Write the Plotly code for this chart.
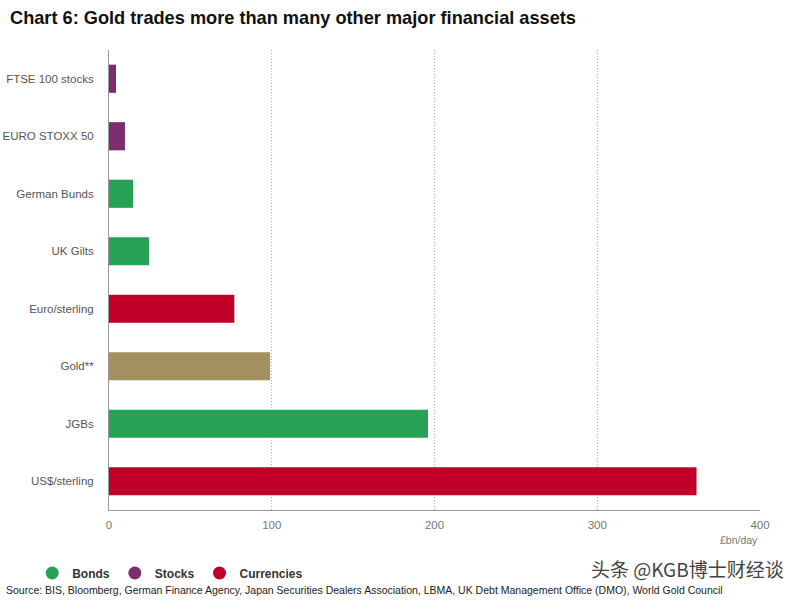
import plotly.graph_objects as go

categories = ["FTSE 100 stocks", "EURO STOXX 50", "German Bunds", "UK Gilts",
              "Euro/sterling", "Gold**", "JGBs", "US$/sterling"]
values = [4.3, 9.8, 14.8, 24.6, 77, 99, 196, 361]
groups = ["Stocks", "Stocks", "Bonds", "Bonds", "Currencies", "Gold", "Bonds", "Currencies"]
colors = {"Bonds": "#27a155", "Stocks": "#7b2d6e", "Currencies": "#c00028", "Gold": "#a38f5f"}
legend_order = ["Bonds", "Stocks", "Currencies"]
x_ticks = [0, 100, 200, 300, 400]

fig = go.Figure()
for g in ["Bonds", "Stocks", "Currencies", "Gold"]:
    ys = [c for c, gg in zip(categories, groups) if gg == g]
    xs = [v for v, gg in zip(values, groups) if gg == g]
    fig.add_trace(go.Bar(x=xs, y=ys, orientation="h", marker_color=colors[g],
                         marker_line_width=0, width=0.49, showlegend=False, name=g))
for g in legend_order:
    fig.add_trace(go.Scatter(x=[None], y=[None], mode="markers", name="<b>" + g + "</b>",
                             marker=dict(symbol="circle", size=13, color=colors[g])))

fig.update_layout(
    width=800, height=600,
    margin=dict(l=109, r=40, t=50, b=90, autoexpand=False),
    paper_bgcolor="white", plot_bgcolor="white",
    barmode="overlay",
    font=dict(family="Liberation Sans, Arial, sans-serif", color="#555555", size=11),
    title=dict(text="<b>Chart 6: Gold trades more than many other major financial assets</b>",
               x=0.0125, xanchor="left", y=0.97, yanchor="middle",
               font=dict(size=18.2, color="#111111", family="Liberation Sans, Arial")),
    xaxis=dict(range=[0, 400], tickvals=x_ticks, showgrid=True, gridcolor="#b0b0b0",
               griddash="1px,2px", gridwidth=1, showline=True, linecolor="#999999", linewidth=1,
               zeroline=False, ticks="", tickfont=dict(color="#777777", size=11.5),
               ticklabelstandoff=4, automargin=False),
    yaxis=dict(categoryorder="array", categoryarray=categories, autorange="reversed",
               showline=True, linecolor="#999999", linewidth=1, showgrid=False, ticks="",
               tickfont=dict(color="#555555", size=11.5), ticklabelstandoff=12,
               automargin=False),
    legend=dict(orientation="h", x=-0.118, y=-0.137, xanchor="left", yanchor="middle",
                font=dict(size=12, color="#333333", family="Liberation Sans, Arial"),
                itemwidth=30, tracegroupgap=0),
)

fig.add_annotation(text="£bn/day", xref="paper", yref="paper", x=1.0, y=-0.065,
                   xanchor="right", yanchor="middle", showarrow=False,
                   font=dict(size=10.5, color="#777777"))
fig.add_annotation(text="Source: BIS, Bloomberg, German Finance Agency, Japan Securities Dealers Association, LBMA, UK Debt Management Office (DMO), World Gold Council",
                   xref="paper", yref="paper", x=-0.161, y=-0.173, xanchor="left", yanchor="middle",
                   showarrow=False, font=dict(size=10.5, color="#222222"))
fig.add_annotation(text="头条 @KGB博士财经谈", xref="paper", yref="paper", x=1.04, y=-0.128,
                   xanchor="right", yanchor="middle", showarrow=False,
                   font=dict(size=19, color="#444444", family="Noto Sans CJK SC"))

fig.write_html("out.html")
